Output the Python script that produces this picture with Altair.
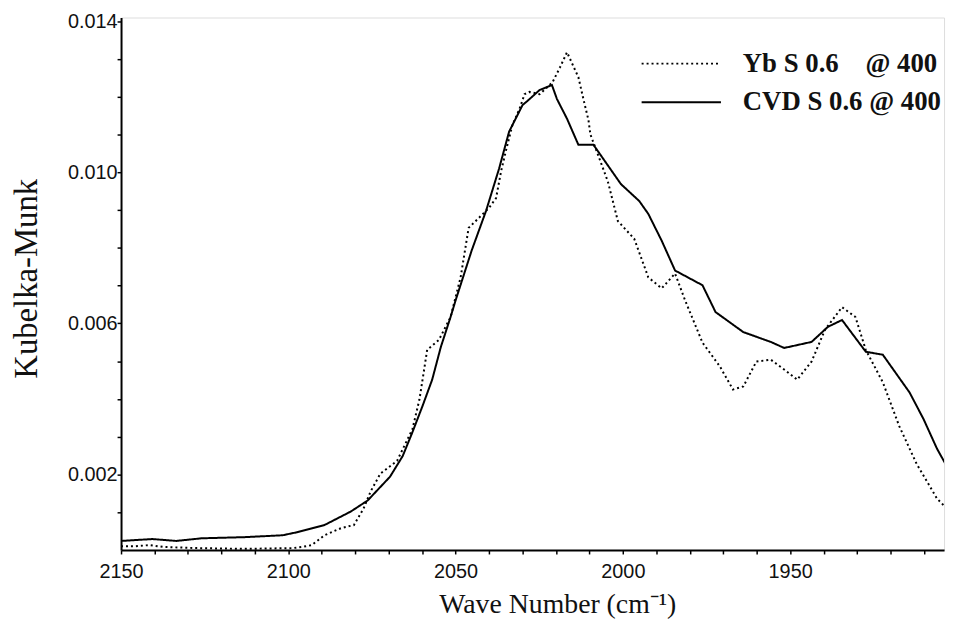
import altair as alt
import pandas as pd

# ---- data ----
SERIES = ["Yb S 0.6\u00a0\u00a0\u00a0\u00a0@ 400", "CVD S 0.6 @ 400"]

yb_wn = [2150.0, 2145.7, 2141.5, 2137.2, 2127.3, 2113.1, 2098.8, 2095.9, 2093.0, 2089.2,
         2084.2, 2080.4, 2077.5, 2075.4, 2072.5, 2067.5, 2062.9, 2060.8, 2059.4, 2058.5,
         2055.0, 2051.5, 2048.5, 2046.1, 2042.4, 2040.0, 2037.9, 2036.4, 2034.8, 2033.0,
         2030.9, 2029.4, 2027.9, 2024.9, 2022.5, 2021.0, 2018.8, 2016.7, 2014.9, 2013.3,
         2011.8, 2010.3, 2009.7, 2006.7, 2004.5, 2001.5, 1996.6, 1992.4, 1988.4, 1984.4,
         1981.4, 1976.2, 1971.0, 1967.1, 1964.0, 1960.1, 1955.8, 1951.8, 1947.9, 1943.6,
         1939.6, 1934.5, 1930.5, 1927.4, 1922.3, 1917.4, 1912.2, 1906.1, 1900.3]
yb_km = [0.00010, 0.00010, 0.00013, 0.00008, 0.00005, 0.00003, 0.00005, 0.00008, 0.00013, 0.00039,
         0.00058, 0.00066, 0.00110, 0.00155, 0.00202, 0.00236, 0.00320, 0.00399, 0.00478, 0.00530,
         0.00556, 0.00617, 0.00722, 0.00853, 0.00885, 0.00906, 0.00932, 0.01003, 0.01063, 0.01126,
         0.01168, 0.01207, 0.01213, 0.01207, 0.01226, 0.01239, 0.01278, 0.01318, 0.01283, 0.01252,
         0.01194, 0.01139, 0.01100, 0.01029, 0.00976, 0.00871, 0.00824, 0.00722, 0.00693, 0.00732,
         0.00661, 0.00549, 0.00486, 0.00425, 0.00433, 0.00499, 0.00504, 0.00478, 0.00451, 0.00499,
         0.00583, 0.00643, 0.00617, 0.00530, 0.00444, 0.00328, 0.00228, 0.00136, 0.00084]

cvd_wn = [2150.0, 2140.6, 2133.5, 2125.9, 2113.1, 2101.7, 2097.4, 2089.2, 2081.3, 2076.3,
          2069.6, 2065.8, 2062.9, 2059.9, 2057.0, 2054.4, 2051.5, 2050.0, 2045.2, 2040.9,
          2037.0, 2034.0, 2030.0, 2027.9, 2024.9, 2021.2, 2019.7, 2016.7, 2013.3, 2008.8,
          2000.6, 1995.1, 1992.4, 1988.4, 1984.4, 1976.2, 1972.3, 1964.0, 1955.8, 1951.8,
          1943.6, 1938.7, 1934.5, 1927.4, 1922.3, 1914.3, 1910.1, 1906.1, 1900.3]
cvd_km = [0.00024, 0.00029, 0.00024, 0.00031, 0.00034, 0.00039, 0.00047, 0.00066, 0.00102, 0.00131,
          0.00194, 0.00249, 0.00312, 0.00381, 0.00451, 0.00538, 0.00617, 0.00661, 0.00793, 0.00898,
          0.01010, 0.01108, 0.01178, 0.01194, 0.01218, 0.01231, 0.01194, 0.01142, 0.01073, 0.01073,
          0.00969, 0.00924, 0.00890, 0.00819, 0.00740, 0.00701, 0.00630, 0.00577, 0.00551, 0.00535,
          0.00551, 0.00591, 0.00609, 0.00525, 0.00517, 0.00417, 0.00346, 0.00268, 0.00176]

X_TICKS = list(range(1910, 2151, 10))
Y_TICKS = [round(0.001 * k, 3) for k in range(1, 15)]

df = pd.concat([
    pd.DataFrame({"wn": yb_wn, "km": yb_km, "series": SERIES[0]}),
    pd.DataFrame({"wn": cvd_wn, "km": cvd_km, "series": SERIES[1]}),
], ignore_index=True)

chart = alt.Chart(df).mark_line(color="black", strokeWidth=2, clip=True).encode(
    x=alt.X("wn:Q",
            scale=alt.Scale(domain=[1904, 2150], reverse=True, nice=False, zero=False),
            axis=alt.Axis(values=X_TICKS,
                          labelExpr="datum.value % 50 === 0 ? format(datum.value, 'd') : ''",
                          title="Wave Number (cm\u207b\u00b9)",
                          labelFlush=False, labelOverlap=False,
                          tickSize=4, tickWidth=1.5, tickColor="black",
                          domainColor="black", domainWidth=2,
                          labelFont="Liberation Sans", labelFontSize=20, labelColor="#111",
                          labelPadding=8, grid=False,
                          titleFont="Liberation Serif", titleFontSize=28,
                          titleFontWeight="normal", titleColor="#111",
                          titleX=440, titleY=63, titleBaseline="alphabetic",
                          titleAlign="center", titleAnchor="middle")),
    y=alt.Y("km:Q",
            scale=alt.Scale(domain=[0, 0.0141], nice=False, zero=False),
            axis=alt.Axis(values=Y_TICKS,
                          labelExpr="round(datum.value * 1000) % 4 === 2 ? format(datum.value, '.3f') : ''",
                          title="Kubelka-Munk",
                          labelOverlap=False,
                          tickSize=4, tickWidth=1.5, tickColor="black",
                          domainColor="black", domainWidth=2,
                          labelFont="Liberation Sans", labelFontSize=20, labelColor="#111",
                          labelPadding=0, grid=False,
                          titleFont="Liberation Serif", titleFontSize=33,
                          titleFontWeight="normal", titleColor="#111",
                          titleAngle=270, titleX=-85, titleY=263,
                          titleBaseline="alphabetic", titleAlign="center")),
    strokeDash=alt.StrokeDash("series:N",
                              scale=alt.Scale(domain=SERIES, range=[[2, 3], [1, 0]]),
                              legend=alt.Legend(title=None, orient="none",
                                                legendX=524, legendY=32,
                                                symbolType="stroke", symbolSize=6400,
                                                symbolStrokeWidth=2, symbolStrokeColor="black",
                                                clipHeight=29, padding=0,
                                                labelFont="Liberation Serif", labelFontSize=27,
                                                labelFontWeight="bold", labelColor="#111",
                                                labelOffset=21, rowPadding=10,
                                                labelLimit=400)),
    detail="series:N",
).properties(
    width=830, height=537,
    autosize=alt.AutoSizeParams(type="none"),
    padding={"left": 114, "top": 7, "right": 7, "bottom": 68},
).configure_view(stroke=None).configure(background="white")

chart.save("out.html", embed_options={"renderer": "svg", "actions": False})
